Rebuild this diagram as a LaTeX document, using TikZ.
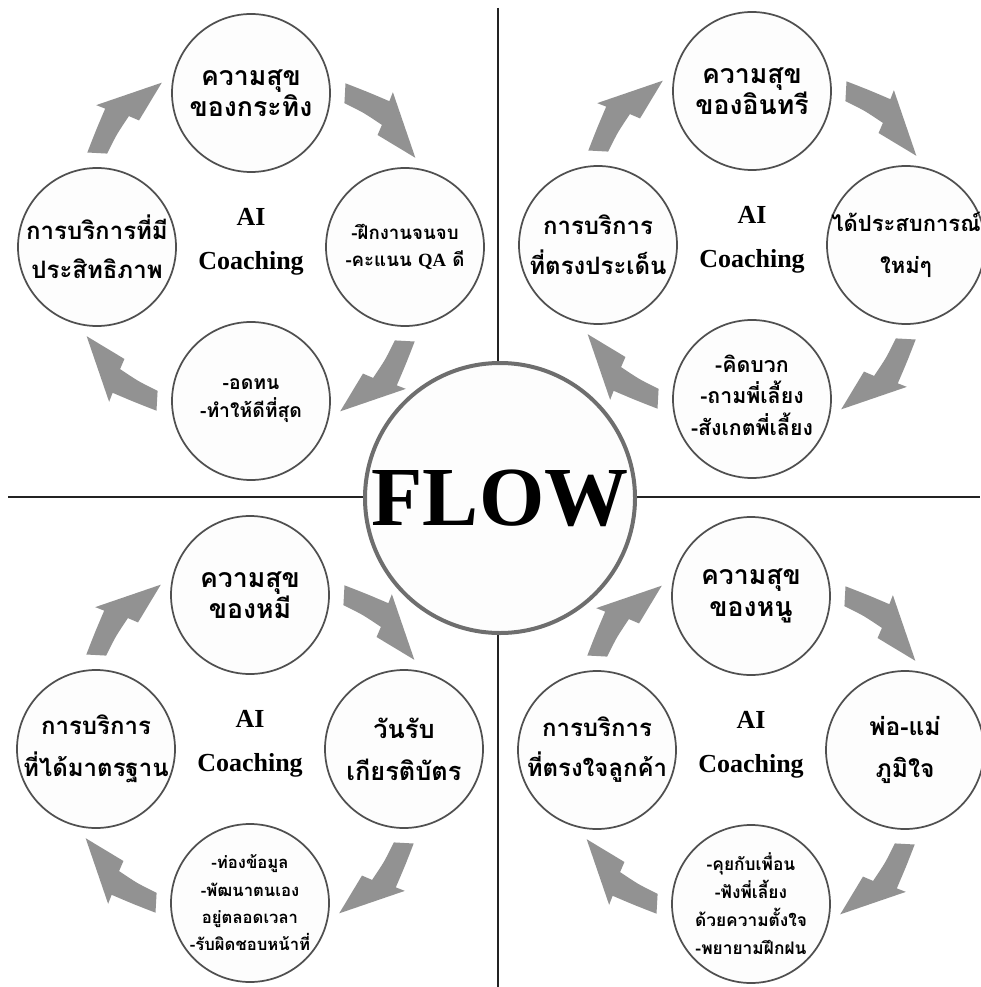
\documentclass[tikz,border=0pt]{standalone}
\usepackage{fontspec}
\setmainfont{Liberation Serif}
\newfontfamily\thaifont[Script=Thai]{Loma}
\newcommand\thsz[2]{\fontsize{#1}{#2}\selectfont}
\definecolor{arrowgray}{RGB}{146,146,146}
\definecolor{ringgray}{RGB}{80,80,80}
\definecolor{fillw}{RGB}{253,253,253}
\definecolor{flowring}{RGB}{110,110,110}
\definecolor{axisdark}{RGB}{35,35,35}
\usetikzlibrary{calc}
\tikzset{
  cyc/.style={circle, draw=ringgray, line width=1.3pt, fill=fillw, minimum size=118.5pt, inner sep=0pt},
  lbl/.style 2 args={align=center, inner sep=0pt, font=\thaifont\bfseries\thsz{#1}{#2}},
  coach/.style={align=center, inner sep=0pt, font=\bfseries\fontsize{19.5}{33}\selectfont},
}
\newcommand\cyclearrow[2]{%
  \begin{scope}[shift={(#1)}, rotate=#2]
    \fill[arrowgray] plot[smooth] coordinates {(-60:189) (-53:194) (-46.5:201)}
      -- (-47.5:210) -- (-28.5:187) -- (-41.5:169)
      -- plot[smooth] coordinates {(-43:179) (-50:175) (-57:171.5)} -- cycle;
  \end{scope}}
\newcommand\quadcycle[1]{%
  \node[cyc] (#1t) at ($(#1)+(0,-154)$) {};
  \node[cyc] (#1l) at ($(#1)+(-154,0)$) {};
  \node[cyc] (#1r) at ($(#1)+(154,0)$) {};
  \node[cyc] (#1b) at ($(#1)+(0,154)$) {};
  \cyclearrow{#1}{0}\cyclearrow{#1}{-90}\cyclearrow{#1}{-180}\cyclearrow{#1}{90}%
  \node[coach] (#1c) at ($(#1)+(0,-5)$) {AI\\Coaching};
}
\begin{document}
\begin{tikzpicture}[x=0.75pt, y=-0.75pt]
\useasboundingbox (0,0) rectangle (980,987);
\fill[white] (0,0) rectangle (980,987);
% axes
\coordinate (axN) at (498,8);
\coordinate (axS) at (498,987);
\coordinate (axW) at (8,497);
\coordinate (axE) at (980,497);
\draw[axisdark, line width=2pt] (axN) -- (axS);
\draw[axisdark, line width=2pt] (axW) -- (axE);
% quadrant centres
\coordinate (qa) at (251,247);
\coordinate (qb) at (752,245);
\coordinate (qc) at (250,749);
\coordinate (qd) at (751,750);
\quadcycle{qa}
\quadcycle{qb}
\quadcycle{qc}
\quadcycle{qd}
% texts: top-left
\node[lbl={20}{23.5}] (qat-t) at (qat) {ความสุข\\ของกระทิง};
\node[lbl={18}{29}] (qal-t) at (qal) {การบริการที่มี\\ประสิทธิภาพ};
\node[lbl={14}{20.5}] (qar-t) at (qar) {-ฝึกงานจนจบ\\-คะแนน {\rmfamily QA} ดี};
\node[lbl={14.5}{21}] (qab-t) at (qab) {-อดทน\\-ทำให้ดีที่สุด};
% top-right
\node[lbl={20}{23.5}] (qbt-t) at (qbt) {ความสุข\\ของอินทรี};
\node[lbl={18}{30}] (qbl-t) at (qbl) {การบริการ\\ที่ตรงประเด็น};
\node[lbl={16.5}{31}] (qbr-t) at (qbr) {ได้ประสบการณ์\\ใหม่ๆ};
\node[lbl={16}{23.5}] (qbb-t) at ($(qbb)+(0,-4)$) {-คิดบวก\\-ถามพี่เลี้ยง\\-สังเกตพี่เลี้ยง};
% bottom-left
\node[lbl={20}{23.5}] (qct-t) at (qct) {ความสุข\\ของหมี};
\node[lbl={18}{31.5}] (qcl-t) at (qcl) {การบริการ\\ที่ได้มาตรฐาน};
\node[lbl={19}{31.5}] (qcr-t) at (qcr) {วันรับ\\เกียรติบัตร};
\node[lbl={12.5}{20.5}] (qcb-t) at (qcb) {-ท่องข้อมูล\\-พัฒนาตนเอง\\อยู่ตลอดเวลา\\-รับผิดชอบหน้าที่};
% bottom-right
\node[lbl={20}{23.5}] (qdt-t) at (qdt) {ความสุข\\ของหนู};
\node[lbl={18}{30}] (qdl-t) at (qdl) {การบริการ\\ที่ตรงใจลูกค้า};
\node[lbl={18.5}{31.5}] (qdr-t) at (qdr) {พ่อ-แม่\\ภูมิใจ};
\node[lbl={13}{21}] (qdb-t) at (qdb) {-คุยกับเพื่อน\\-ฟังพี่เลี้ยง\\ด้วยความตั้งใจ\\-พยายามฝึกฝน};
% centre
\node[circle, draw=flowring, line width=3pt, fill=fillw, minimum size=202.5pt, inner sep=0pt,
      font=\bfseries\fontsize{63}{63}\selectfont] (flow) at (500,498) {FLOW};
\end{tikzpicture}
\end{document}
